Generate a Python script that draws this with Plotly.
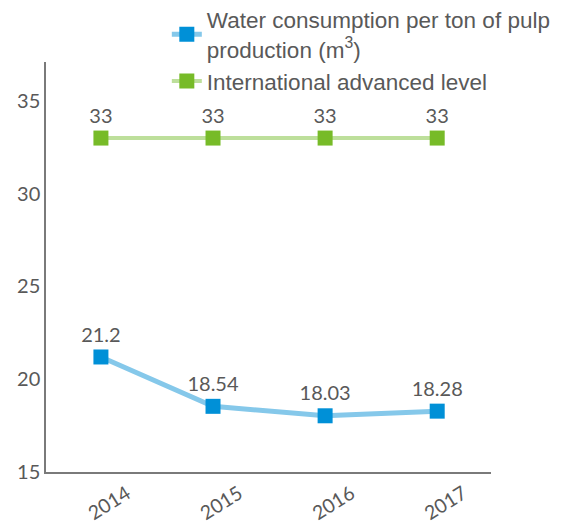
import plotly.graph_objects as go

years = ["2014", "2015", "2016", "2017"]
water_use = [21.2, 18.54, 18.03, 18.28]
intl_level = [33, 33, 33, 33]
y_ticks = [15, 20, 25, 30, 35]

GRAY = "#595959"
NUM_FONT = "Lato"

fig = go.Figure()

fig.add_trace(
    go.Scatter(
        x=years,
        y=water_use,
        mode="lines+markers+text",
        name="Water consumption per ton of pulp<br>production (m<sup>3</sup>)",
        line=dict(color="#85c8ea", width=5),
        marker=dict(symbol="square", size=15, color="#0090d7"),
        text=[str(v) for v in water_use],
        textposition="top center",
        textfont=dict(family=NUM_FONT, size=20, color=GRAY),
    )
)
fig.add_trace(
    go.Scatter(
        x=years,
        y=intl_level,
        mode="lines+markers+text",
        name="International advanced level",
        line=dict(color="#bddf9b", width=4),
        marker=dict(symbol="square", size=15, color="#77bb28"),
        text=[str(v) for v in intl_level],
        textposition="top center",
        textfont=dict(family=NUM_FONT, size=20, color=GRAY),
    )
)

# page body adds ~8px offset, margins compensate for it
fig.update_layout(
    width=563,
    height=522,
    margin=dict(l=38, r=80, t=54, b=58, autoexpand=False),
    plot_bgcolor="white",
    paper_bgcolor="white",
    showlegend=True,
    legend=dict(
        x=0.2715,
        y=1.155,
        xanchor="left",
        yanchor="top",
        font=dict(family="Liberation Sans, Arial", size=22.5, color=GRAY),
        tracegroupgap=2,
        bgcolor="rgba(0,0,0,0)",
    ),
    xaxis=dict(
        type="category",
        range=[-0.49, 3.48],
        showgrid=False,
        showline=True,
        linecolor="#7a7a7a",
        linewidth=1.5,
        ticks="",
        tickangle=-32,
        ticklabelshift=26,
        ticklabelstandoff=1,
        tickfont=dict(family=NUM_FONT, size=19.5, color=GRAY),
    ),
    yaxis=dict(
        range=[15, 37.1],
        tickvals=y_ticks,
        showgrid=False,
        showline=True,
        linecolor="#7a7a7a",
        linewidth=1.5,
        ticks="",
        zeroline=False,
        tickfont=dict(family=NUM_FONT, size=20, color=GRAY),
    ),
)

fig.write_html("out.html")
